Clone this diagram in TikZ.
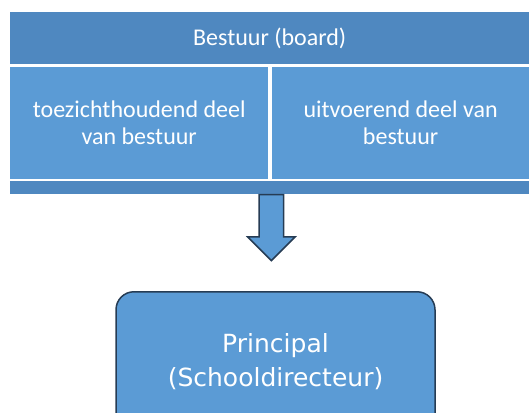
\documentclass[tikz,border=0pt]{standalone}
\usepackage{fontspec}
\setmainfont{Carlito}
\newfontfamily\verdanalike{DejaVu Sans}
\usepackage{xcolor}
\definecolor{barblue}{RGB}{79,136,192}
\definecolor{cellblue}{RGB}{91,155,213}
\definecolor{edgeblue}{RGB}{38,60,84}
\usetikzlibrary{positioning, shapes.arrows}
\tikzstyle{Bar} = [
fill=barblue,
text=white,
inner sep=0pt,
minimum width=519pt,
font=\fontsize{24}{27}\selectfont]
\tikzstyle{Cell} = [
fill=cellblue,
text=white,
inner sep=0pt,
align=center,
minimum width=258pt,
minimum height=112pt,
font=\fontsize{24}{27}\selectfont]
\tikzstyle{DownArrow} = [
single arrow,
shape border rotate=270,
fill=cellblue,
draw=edgeblue,
line width=1.5pt,
inner xsep=11.5pt,
inner ysep=0pt,
minimum width=46pt,
minimum height=66pt,
single arrow head extend=11.5pt,
single arrow head indent=0pt]
\tikzstyle{Principal} = [
rounded corners=18pt,
fill=cellblue,
draw=edgeblue,
line width=1.5pt,
text=white,
align=center,
minimum width=319pt,
minimum height=140pt,
font=\verdanalike\fontsize{25}{34}\selectfont]

\begin{document}
\begin{tikzpicture}[x=1pt, y=-1pt]
    \useasboundingbox (0,0) rectangle (529,412);
    \node [Bar, anchor=north west, minimum height=52pt] (1) at (10,12) {Bestuur (board)};
    \node [Cell, anchor=north west] (2) at (10,67) {toezichthoudend deel\\van bestuur};
    \node [Cell, right =3pt of 2] (3) {uitvoerend deel van\\bestuur};
    \node [Bar, anchor=north west, minimum height=13pt] (4) at (10,181) {};
    \node [DownArrow, below =-0.5pt of 4.south -| 3.west] (5) {};
    \node [Principal, anchor=north] (6) at (275.5,291) {Principal\\(Schooldirecteur)};
\end{tikzpicture}
\end{document}
